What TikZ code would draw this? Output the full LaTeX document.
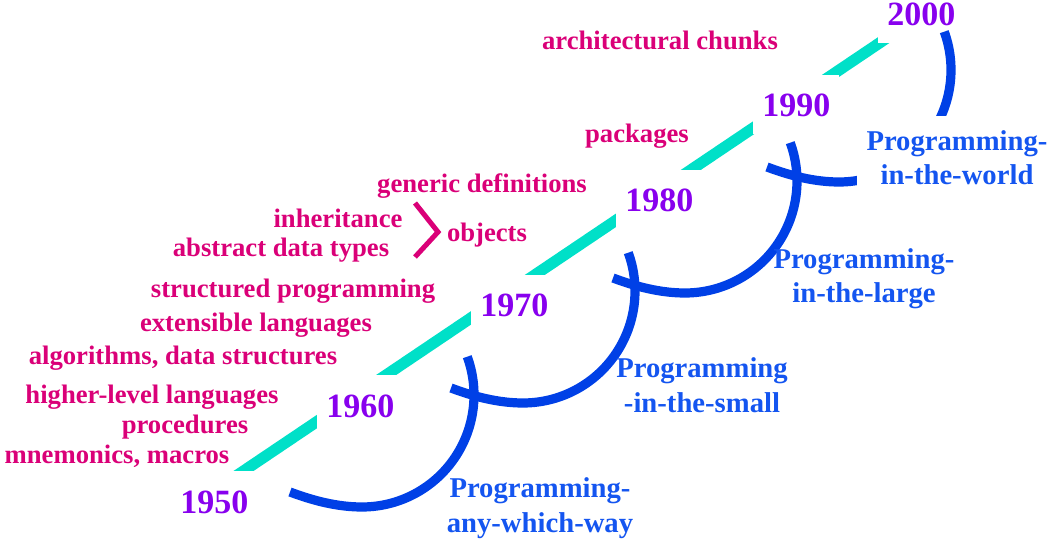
\documentclass[tikz,border=0pt]{standalone}
\usepackage{fontspec}
\setmainfont{Liberation Serif}
\definecolor{bandteal}{RGB}{0,224,200}
\definecolor{yearpurple}{RGB}{136,0,238}
\definecolor{topicpink}{RGB}{218,0,120}
\definecolor{waveblue}{RGB}{0,64,230}
\definecolor{erablue}{RGB}{20,85,240}
\tikzset{
  year/.style={font=\fontsize{25.5}{25}\selectfont\bfseries, text=yearpurple, fill=white,
    inner sep=0pt, inner xsep=6.75pt, text height=31.5pt, text depth=12.75pt, anchor=base west},
  topic/.style={font=\fontsize{20}{22}\selectfont\bfseries, text=topicpink, inner sep=0pt, anchor=base},
  era/.style={font=\fontsize{21.5}{26}\selectfont\bfseries, text=erablue, align=center, inner sep=0pt, anchor=base},
  wave/.style={draw=waveblue, line width=6.9pt},
  band/.style={draw=bandteal, line width=8.4pt},
  brace/.style={draw=topicpink, line width=3.75pt}
}
\begin{document}
\begin{tikzpicture}[x=0.75pt, y=0.75pt]
  \useasboundingbox (0,0) rectangle (1049,-541);
  % the time line, cut by the decades
  \draw[band] (222.7,-485) -- (913.6,-20);
  \node[year] (y1950) at (171,-513) {1950};
  \node[year] (y1960) at (317,-417) {1960};
  \node[year] (y1970) at (471,-317) {1970};
  \node[year] (y1980) at (616,-212) {1980};
  \node[year] (y1990) at (753,-117) {1990};
  \node[year] (y2000) at (878,-26) {2000};
  % what came with each decade
  \node[topic] (mnemonics) at (117,-463) {mnemonics, macros};
  \node[topic] (procedures) at (185,-433) {procedures};
  \node[topic] (higher) at (152,-403) {higher-level languages};
  \node[topic] (algorithms) at (183,-364) {algorithms, data structures};
  \node[topic] (extensible) at (256,-332) {extensible languages};
  \node[topic] (structured) at (293,-298) {structured programming};
  \node[topic] (abstract) at (281,-257) {abstract data types};
  \node[topic] (inheritance) at (338,-228) {inheritance};
  \node[topic] (objects) at (487,-242) {objects};
  \node[topic] (generic) at (482,-193) {generic definitions};
  \node[topic] (packages) at (637,-143) {packages};
  \node[topic] (chunks) at (660,-50) {architectural chunks};
  \draw[brace] (415,-203) -- (438,-232) -- (415,-257);
  % the eras
  \draw[wave] (290,-492) .. controls (314,-501) and (338,-507) .. (362,-507) arc[start angle=-90, end angle=20, radius=112];
  \draw[wave, shift={(161,104)}] (290,-492) .. controls (314,-501) and (338,-507) .. (362,-507) arc[start angle=-90, end angle=20, radius=112];
  \draw[wave, shift={(323,214)}] (290,-492) .. controls (314,-501) and (338,-507) .. (362,-507) arc[start angle=-90, end angle=20, radius=112];
  \draw[wave, shift={(477,325)}] (290,-492) .. controls (314,-501) and (338,-507) .. (362,-507) arc[start angle=-90, end angle=20, radius=112];
  \node[era] (anyway) at (540,-532) {Programming-\\any-which-way};
  \node[era] (small) at (702,-412) {Programming\\-in-the-small};
  \node[era] (large) at (864,-303) {Programming-\\in-the-large};
  \node[era, fill=white, inner xsep=7.3pt, inner ysep=10.5pt] (world) at (957,-185) {Programming-\\in-the-world};
\end{tikzpicture}
\end{document}
